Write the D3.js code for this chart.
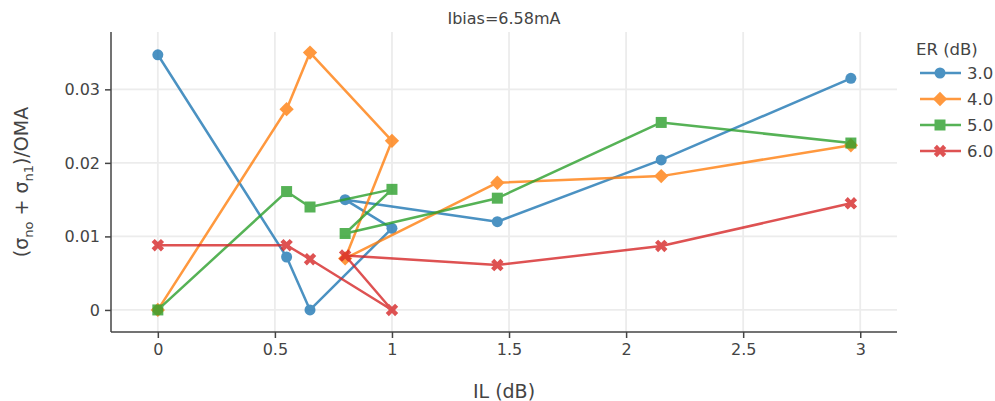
<!DOCTYPE html>
<html>
<head>
<meta charset="utf-8">
<script src="https://cdn.jsdelivr.net/npm/d3@7/dist/d3.min.js"></script>
<style>
  html, body { margin: 0; padding: 0; background: #fff; }
  svg { display: block; font-family: "DejaVu Sans", Verdana, sans-serif; }
</style>
</head>
<body>
<svg id="chart" width="995" height="401"></svg>
<script>
// Insertion loss sweep (dB); points are kept in measurement order
const ilValues = [0, 0.55, 0.65, 1.0, 0.8, 1.45, 2.15, 2.96];
// Extinction ratio settings (legend entries)
const erLevels = ["3.0", "4.0", "5.0", "6.0"];
// (σno + σn1)/OMA for each ER setting
const noiseEr30 = [0.0347, 0.0072, 0.0, 0.0111, 0.0150, 0.0120, 0.0204, 0.0315];
const noiseEr40 = [0.0, 0.0273, 0.0350, 0.0230, 0.0070, 0.0173, 0.0182, 0.0224];
const noiseEr50 = [0.0, 0.0161, 0.0140, 0.0164, 0.0104, 0.0152, 0.0255, 0.0227];
const noiseEr60 = [0.0088, 0.0088, 0.0069, 0.0, 0.0074, 0.0061, 0.0087, 0.0145];
// Axis ticks
const xTicks = [0, 0.5, 1, 1.5, 2, 2.5, 3];
const xTickLabels = ["0", "0.5", "1", "1.5", "2", "2.5", "3"];
const yTicks = [0, 0.01, 0.02, 0.03];
const yTickLabels = ["0", "0.01", "0.02", "0.03"];

const chartTitle = "Ibias=6.58mA";
const xTitle = "IL (dB)";
const legendTitle = "ER (dB)";

const seriesValues = [noiseEr30, noiseEr40, noiseEr50, noiseEr60];
const colors = ["#1f77b4", "#ff7f0e", "#2ca02c", "#d62728"];
const symbols = ["circle", "diamond", "square", "x"];

const svg = d3.select("#chart");
const plot = { left: 111, right: 897, top: 32, bottom: 332 };

const x = d3.scaleLinear().domain([-0.2, 3.157]).range([plot.left, plot.right]);
const y = d3.scaleLinear().domain([-0.003, 0.0378]).range([plot.bottom, plot.top]);

const textColor = "#444";

// Grid lines
const grid = svg.append("g");
grid.selectAll("line.gx").data(xTicks).join("line")
  .attr("x1", d => x(d)).attr("x2", d => x(d))
  .attr("y1", plot.top).attr("y2", plot.bottom)
  .attr("stroke", "#ececec").attr("stroke-width", 1.8);
grid.selectAll("line.gy").data(yTicks).join("line")
  .attr("x1", plot.left).attr("x2", plot.right)
  .attr("y1", d => y(d)).attr("y2", d => y(d))
  .attr("stroke", "#ececec").attr("stroke-width", 1.8);

// Axes
const xAxis = d3.axisBottom(x).tickValues(xTicks)
  .tickFormat((d, i) => xTickLabels[i]).tickSize(6).tickPadding(6).tickSizeOuter(0);
const yAxis = d3.axisLeft(y).tickValues(yTicks)
  .tickFormat((d, i) => yTickLabels[i]).tickSize(6).tickPadding(5).tickSizeOuter(0);

const gx = svg.append("g").attr("transform", `translate(0,${plot.bottom})`).call(xAxis);
const gy = svg.append("g").attr("transform", `translate(${plot.left},0)`).call(yAxis);
[gx, gy].forEach(g => {
  g.select(".domain").attr("stroke", textColor).attr("stroke-width", 1.5);
  g.selectAll(".tick line").attr("stroke", textColor).attr("stroke-width", 1.5);
  g.selectAll(".tick text").attr("fill", textColor)
    .style("font-family", "'DejaVu Sans', Verdana, sans-serif").style("font-size", "16px");
});
gx.select(".domain").attr("d", `M${plot.left},0H${plot.right}`);
gy.select(".domain").attr("d", `M0,${plot.bottom}V${plot.top}`);

// Marker shapes (size in px)
const markerSize = 11;
function markerPath(sym) {
  const r = markerSize / 2;
  if (sym === "circle") {
    return `M${r},0A${r},${r} 0 1,1 0,-${r}A${r},${r} 0 0,1 ${r},0Z`;
  }
  if (sym === "diamond") {
    const rd = r * 1.3;
    return `M${rd},0L0,${rd}L-${rd},0L0,-${rd}Z`;
  }
  if (sym === "square") {
    return `M${r},${r}H-${r}V-${r}H${r}Z`;
  }
  const rx = r * 0.8 / Math.SQRT2;
  const ne = `l${rx},${rx}`, se = `l${rx},-${rx}`, sw = `l-${rx},-${rx}`, nw = `l-${rx},${rx}`;
  return `M0,${rx}` + ne + se + sw + se + sw + nw + sw + nw + ne + nw + ne + "Z";
}

// Traces
const line = d3.line().x(d => x(d[0])).y(d => y(d[1]));
seriesValues.forEach((vals, si) => {
  const pts = ilValues.map((v, i) => [v, vals[i]]);
  const g = svg.append("g").attr("opacity", 0.8);
  g.append("path").attr("d", line(pts)).attr("fill", "none")
    .attr("stroke", colors[si]).attr("stroke-width", 2.5).attr("stroke-linejoin", "round");
  g.selectAll("path.pt").data(pts).join("path")
    .attr("class", "pt")
    .attr("d", markerPath(symbols[si]))
    .attr("transform", d => `translate(${x(d[0])},${y(d[1])})`)
    .attr("fill", colors[si]);
});

// Title
svg.append("text").attr("x", (plot.left + plot.right) / 2).attr("y", 24)
  .attr("text-anchor", "middle").attr("fill", textColor)
  .style("font-size", "16px").text(chartTitle);

// X axis title
svg.append("text").attr("x", (plot.left + plot.right) / 2).attr("y", 398)
  .attr("text-anchor", "middle").attr("fill", textColor)
  .style("font-size", "19px").text(xTitle);

// Y axis title with subscripts
const yt = svg.append("text")
  .attr("transform", "translate(28,182) rotate(-90)")
  .attr("text-anchor", "middle").attr("fill", textColor)
  .style("font-size", "19px");
yt.append("tspan").text("(σ");
yt.append("tspan").attr("dy", 5).style("font-size", "13px").text("no");
yt.append("tspan").attr("dy", -5).text(" + σ");
yt.append("tspan").attr("dy", 5).style("font-size", "13px").text("n1");
yt.append("tspan").attr("dy", -5).text(")/OMA");

// Legend
const legend = svg.append("g");
legend.append("text").attr("x", 916).attr("y", 55).attr("fill", textColor)
  .style("font-size", "16.5px").text(legendTitle);
erLevels.forEach((lab, i) => {
  const cy = 73 + i * 26;
  const g = legend.append("g");
  const gm = g.append("g").attr("opacity", 0.8);
  gm.append("line").attr("x1", 920).attr("x2", 961).attr("y1", cy).attr("y2", cy)
    .attr("stroke", colors[i]).attr("stroke-width", 2.5);
  gm.append("path").attr("d", markerPath(symbols[i]))
    .attr("transform", `translate(940,${cy})`).attr("fill", colors[i]);
  g.append("text").attr("x", 967).attr("y", cy + 6).attr("fill", textColor)
    .style("font-size", "16.5px").text(lab);
});
</script>
</body>
</html>
